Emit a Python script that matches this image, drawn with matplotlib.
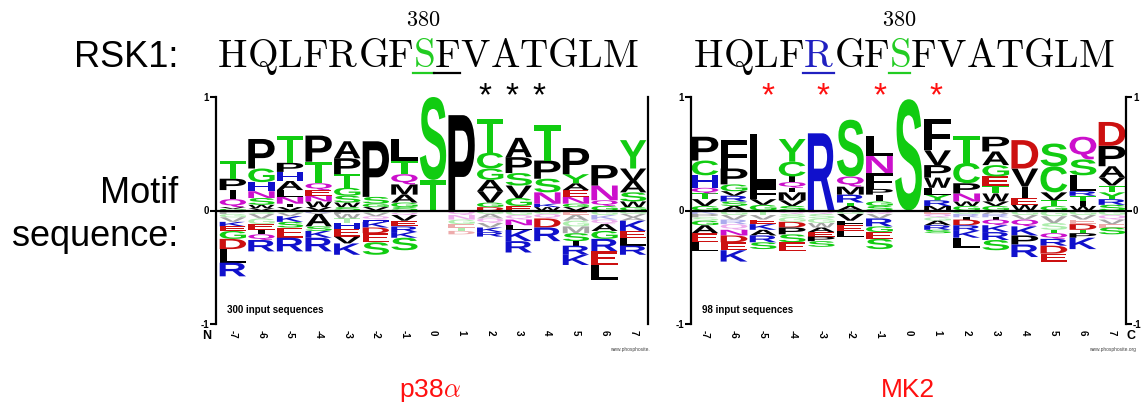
import matplotlib
matplotlib.use('Agg')
import matplotlib.pyplot as plt
from matplotlib.textpath import TextPath
from matplotlib.patches import PathPatch
from matplotlib.font_manager import FontProperties
from matplotlib.transforms import Affine2D

plt.rcParams['mathtext.fontset'] = 'cm'
plt.rcParams['font.family'] = ['Liberation Sans', 'DejaVu Sans']

W, H = 1146, 407

positions = list(range(-7, 8))
tick_labels = [str(p) for p in positions]
rsk1_seq = "HQLFRGFSFVATGLM"

# letters above zero, bottom to top; lowercase = faded small letters
p38_pos_seq = ["GVQIPT", "VWSNHGP", "VINLAHPT", "VWNEQTP", "SWSGTPA", "VGSP",
               "SGAMQTL", "TS", "P", "DGVAGCT", "EGVSPA", "WKNSPT", "VGNEAYP",
               "GQNP", "GWSAVY"]
p38_pos_h = [[0.015, 0.015, 0.07, 0.08, 0.10, 0.155],
             [0.02, 0.03, 0.06, 0.06, 0.08, 0.12, 0.26],
             [0.03, 0.03, 0.06, 0.06, 0.08, 0.08, 0.08, 0.24],
             [0.03, 0.05, 0.05, 0.05, 0.06, 0.19, 0.23],
             [0.03, 0.04, 0.06, 0.07, 0.12, 0.14, 0.15],
             [0.03, 0.03, 0.06, 0.49],
             [0.03, 0.04, 0.07, 0.09, 0.09, 0.12, 0.19],
             [0.27, 0.73],
             [0.84],
             [0.03, 0.04, 0.10, 0.10, 0.10, 0.14, 0.30],
             [0.04, 0.07, 0.11, 0.11, 0.14, 0.17],
             [0.03, 0.03, 0.10, 0.12, 0.16, 0.31],
             [0.03, 0.03, 0.06, 0.06, 0.06, 0.08, 0.23],
             [0.04, 0.05, 0.13, 0.18],
             [0.03, 0.05, 0.08, 0.10, 0.11, 0.25]]
# letters below zero, top to bottom
p38_neg_seq = ["pgvKEGDLR", "svgEIQR", "gvKSER", "kvASKR", "pwtHEVK", "gvqHKDES",
               "gqVERKS", "", "qngetd", "gaqvKR", "gqNLKR", "gqDR", "eagmSIRK",
               "gkqAGREL", "gvaKELR"]
p38_neg_h = [[0.03, 0.03, 0.04, 0.04, 0.04, 0.07, 0.09, 0.12, 0.12],
             [0.03, 0.04, 0.05, 0.05, 0.04, 0.05, 0.10],
             [0.02, 0.03, 0.05, 0.05, 0.09, 0.12],
             [0.02, 0.01, 0.11, 0.04, 0.06, 0.12],
             [0.03, 0.04, 0.04, 0.05, 0.07, 0.06, 0.10],
             [0.02, 0.03, 0.03, 0.02, 0.05, 0.05, 0.08, 0.11],
             [0.02, 0.02, 0.05, 0.05, 0.05, 0.05, 0.11],
             [],
             [0.04, 0.04, 0.04, 0.03, 0.03, 0.03],
             [0.03, 0.04, 0.04, 0.04, 0.04, 0.04],
             [0.04, 0.04, 0.05, 0.04, 0.10, 0.10],
             [0.03, 0.04, 0.08, 0.12],
             [0.04, 0.05, 0.05, 0.06, 0.07, 0.04, 0.08, 0.09],
             [0.04, 0.04, 0.04, 0.06, 0.07, 0.11, 0.12, 0.13],
             [0.03, 0.03, 0.03, 0.09, 0.06, 0.07, 0.08]]

mk2_pos_seq = ["GVTQHCP", "ASRVGPF", "GVFL", "SVMIQICY", "R", "ATRMQS",
               "SGIPFNL", "S", "MRYLWPVF", "GWNPCT", "GVWTEGAP", "WEIVD",
               "GTVCS", "WITRLSQ", "SRYTVAPD"]
mk2_pos_h = [[0.04, 0.06, 0.05, 0.05, 0.11, 0.13, 0.21],
             [0.04, 0.04, 0.05, 0.04, 0.06, 0.14, 0.25],
             [0.05, 0.05, 0.10, 0.47],
             [0.04, 0.05, 0.07, 0.04, 0.05, 0.05, 0.13, 0.20],
             [0.68],
             [0.04, 0.03, 0.07, 0.07, 0.09, 0.50],
             [0.04, 0.04, 0.06, 0.05, 0.14, 0.15, 0.18],
             [0.98],
             [0.04, 0.05, 0.05, 0.06, 0.09, 0.11, 0.13, 0.28],
             [0.04, 0.04, 0.07, 0.09, 0.18, 0.24],
             [0.04, 0.04, 0.07, 0.07, 0.08, 0.10, 0.12, 0.13],
             [0.05, 0.06, 0.10, 0.16, 0.25],
             [0.04, 0.05, 0.07, 0.23, 0.20],
             [0.04, 0.04, 0.05, 0.04, 0.14, 0.14, 0.20],
             [0.05, 0.05, 0.06, 0.06, 0.07, 0.10, 0.18, 0.21]]
mk2_neg_seq = ["kpsGAEL", "gvrqNDEK", "tvEKARS", "qsgDPSE", "qsgwAEPS", "gVFEL",
               "qvRGES", "", "eqgARS", "grIDRKL", "arIQKRS", "gvQKPR", "gvsTQRDE",
               "gveDTPK", "gqveS"]
mk2_neg_h = [[0.03, 0.03, 0.03, 0.04, 0.07, 0.08, 0.08],
             [0.04, 0.04, 0.04, 0.05, 0.05, 0.06, 0.07, 0.10],
             [0.04, 0.04, 0.04, 0.05, 0.05, 0.06, 0.06],
             [0.03, 0.03, 0.04, 0.05, 0.06, 0.07, 0.08],
             [0.03, 0.04, 0.04, 0.04, 0.04, 0.04, 0.04, 0.05],
             [0.03, 0.06, 0.04, 0.05, 0.05],
             [0.03, 0.04, 0.07, 0.05, 0.06, 0.09],
             [],
             [0.03, 0.03, 0.03, 0.04, 0.04, 0.03],
             [0.03, 0.03, 0.02, 0.05, 0.05, 0.06, 0.09],
             [0.03, 0.03, 0.02, 0.05, 0.06, 0.07, 0.09],
             [0.04, 0.04, 0.06, 0.08, 0.08, 0.11],
             [0.05, 0.06, 0.06, 0.03, 0.05, 0.06, 0.07, 0.07],
             [0.04, 0.04, 0.04, 0.05, 0.03, 0.04, 0.10],
             [0.04, 0.04, 0.04, 0.03, 0.06]]

GREEN, BLUE, RED, MAG = '#11cc11', '#1010cc', '#cc1010', '#cc10cc'
aa_color = {}
for a in 'GSTYC':
    aa_color[a] = GREEN
for a in 'NQ':
    aa_color[a] = MAG
for a in 'KRH':
    aa_color[a] = BLUE
for a in 'DE':
    aa_color[a] = RED
for a in 'AVLIPWFMX':
    aa_color[a] = 'black'

fp = FontProperties(family='Liberation Sans', weight='bold')
glyphs = {}


def draw_letter(ax, ch, x, y0, h):
    up = ch.upper()
    if up not in glyphs:
        glyphs[up] = TextPath((0, 0), up, size=1, prop=fp)
    p = glyphs[up]
    bb = p.get_extents()
    w = 0.22 if up == 'I' else 0.92
    t = Affine2D().translate(-bb.x0, -bb.y0).scale(w / bb.width, h / bb.height)
    t = t.translate(x - w / 2, y0)
    alpha = 0.35 if ch.islower() else 1.0
    ax.add_patch(PathPatch(t.transform_path(p), fc=aa_color[up], ec='none',
                           alpha=alpha, lw=0))


def draw_logo(ax, pos_seq, pos_h, neg_seq, neg_h):
    for x, seq, hs in zip(positions, pos_seq, pos_h):
        y = 0
        for ch, h in zip(seq, hs):
            draw_letter(ax, ch, x, y, h)
            y += h
    for x, seq, hs in zip(positions, neg_seq, neg_h):
        y = 0
        for ch, h in zip(seq, hs):
            y -= h
            draw_letter(ax, ch, x, y, h)


def setup_axes(px_left, px_right, xlim, right_labels):
    ax = fig.add_axes([px_left / W, 1 - 324 / H, (px_right - px_left) / W, 227 / H])
    ax.set_xlim(*xlim)
    ax.set_ylim(-1, 1)
    ax.spines['top'].set_visible(False)
    ax.spines['bottom'].set_visible(False)
    for s in ('left', 'right'):
        ax.spines[s].set_linewidth(1.6)
    ax.set_yticks([-1, 0, 1])
    ax.set_yticklabels(['-1', '0', '1'], fontweight='bold')
    ax.tick_params(axis='y', direction='out', length=4, width=1.5, labelsize=7,
                   pad=1, right=right_labels, labelright=right_labels)
    ax.set_xticks(positions)
    ax.set_xticklabels(tick_labels, rotation=-90, fontweight='bold', fontsize=7)
    ax.tick_params(axis='x', length=0, pad=4)
    ax.axhline(0, color='black', lw=1.6, zorder=5)
    return ax


fig = plt.figure(figsize=(W / 100, H / 100), dpi=100)
renderer = fig.canvas.get_renderer()

ax1 = setup_axes(216, 648, (-7.59, 7.52), False)
draw_logo(ax1, p38_pos_seq, p38_pos_h, p38_neg_seq, p38_neg_h)
ax1.text(0.025, 0.05, '300 input sequences', transform=ax1.transAxes,
         fontsize=7, fontweight='bold')

ax2 = setup_axes(691, 1126, (-7.48, 7.48), True)
draw_logo(ax2, mk2_pos_seq, mk2_pos_h, mk2_neg_seq, mk2_neg_h)
ax2.text(0.025, 0.05, '98 input sequences', transform=ax2.transAxes,
         fontsize=7, fontweight='bold')


def ftext(px, py, s, **kw):
    return fig.text(px / W, 1 - py / H, s, **kw)


ftext(207, 336, 'N', fontsize=9, fontweight='bold', ha='center', va='center')
ftext(1131, 336, 'C', fontsize=9, fontweight='bold', ha='center', va='center')
ftext(650, 349, 'www.phosphosite.', fontsize=3.5, ha='right', va='center', color='#444444')
ftext(1136, 349, 'www.phosphosite.org', fontsize=3.5, ha='right', va='center', color='#444444')


def seq_width(s, fs):
    t = fig.text(0, 0, r'$\mathrm{%s}$' % s, fontsize=fs)
    w = t.get_window_extent(renderer).width
    t.remove()
    return w


def draw_seq(x0, x1, base_y, marks):
    fs = 10 * (x1 - x0) / seq_width(rsk1_seq, 10)
    for i, ch in enumerate(rsk1_seq):
        xs = x0 + (seq_width(rsk1_seq[:i], fs) if i else 0)
        xe = x0 + seq_width(rsk1_seq[:i + 1], fs)
        c = marks.get(i, 'black')
        ftext(xs, base_y, r'$\mathrm{%s}$' % ch, fontsize=fs, color=c, va='baseline')
        if i in marks:
            fig.add_artist(plt.Line2D([xs / W, xe / W], [1 - (base_y + 6) / H] * 2,
                                      color=c, lw=1.6, transform=fig.transFigure))
            if ch == 'S':
                ftext((xs + xe) / 2, 21, r'$\mathbf{380}$', fontsize=16,
                      ha='center', va='center')


ftext(178, 67, 'RSK1:', fontsize=26, ha='right', va='baseline')
draw_seq(217, 642, 67, {7: '#22cc22', 8: 'black'})
draw_seq(693, 1118, 67, {4: '#2020c0', 7: '#22cc22'})

ftext(178, 203, 'Motif', fontsize=26, ha='right', va='baseline')
ftext(178, 246, 'sequence:', fontsize=26, ha='right', va='baseline')

for px in (485, 512, 539):
    ftext(px, 97, '*', fontsize=24, ha='center', va='center', color='black')
for px in (768, 823, 880, 936):
    ftext(px, 97, '*', fontsize=24, ha='center', va='center', color='#ff1010')

ftext(430, 397, r'p38$\alpha$', fontsize=19, ha='center', va='baseline', color='#ff1010')
ftext(908, 397, 'MK2', fontsize=19, ha='center', va='baseline', color='#ff1010')

fig.savefig('out.png', dpi=100)
